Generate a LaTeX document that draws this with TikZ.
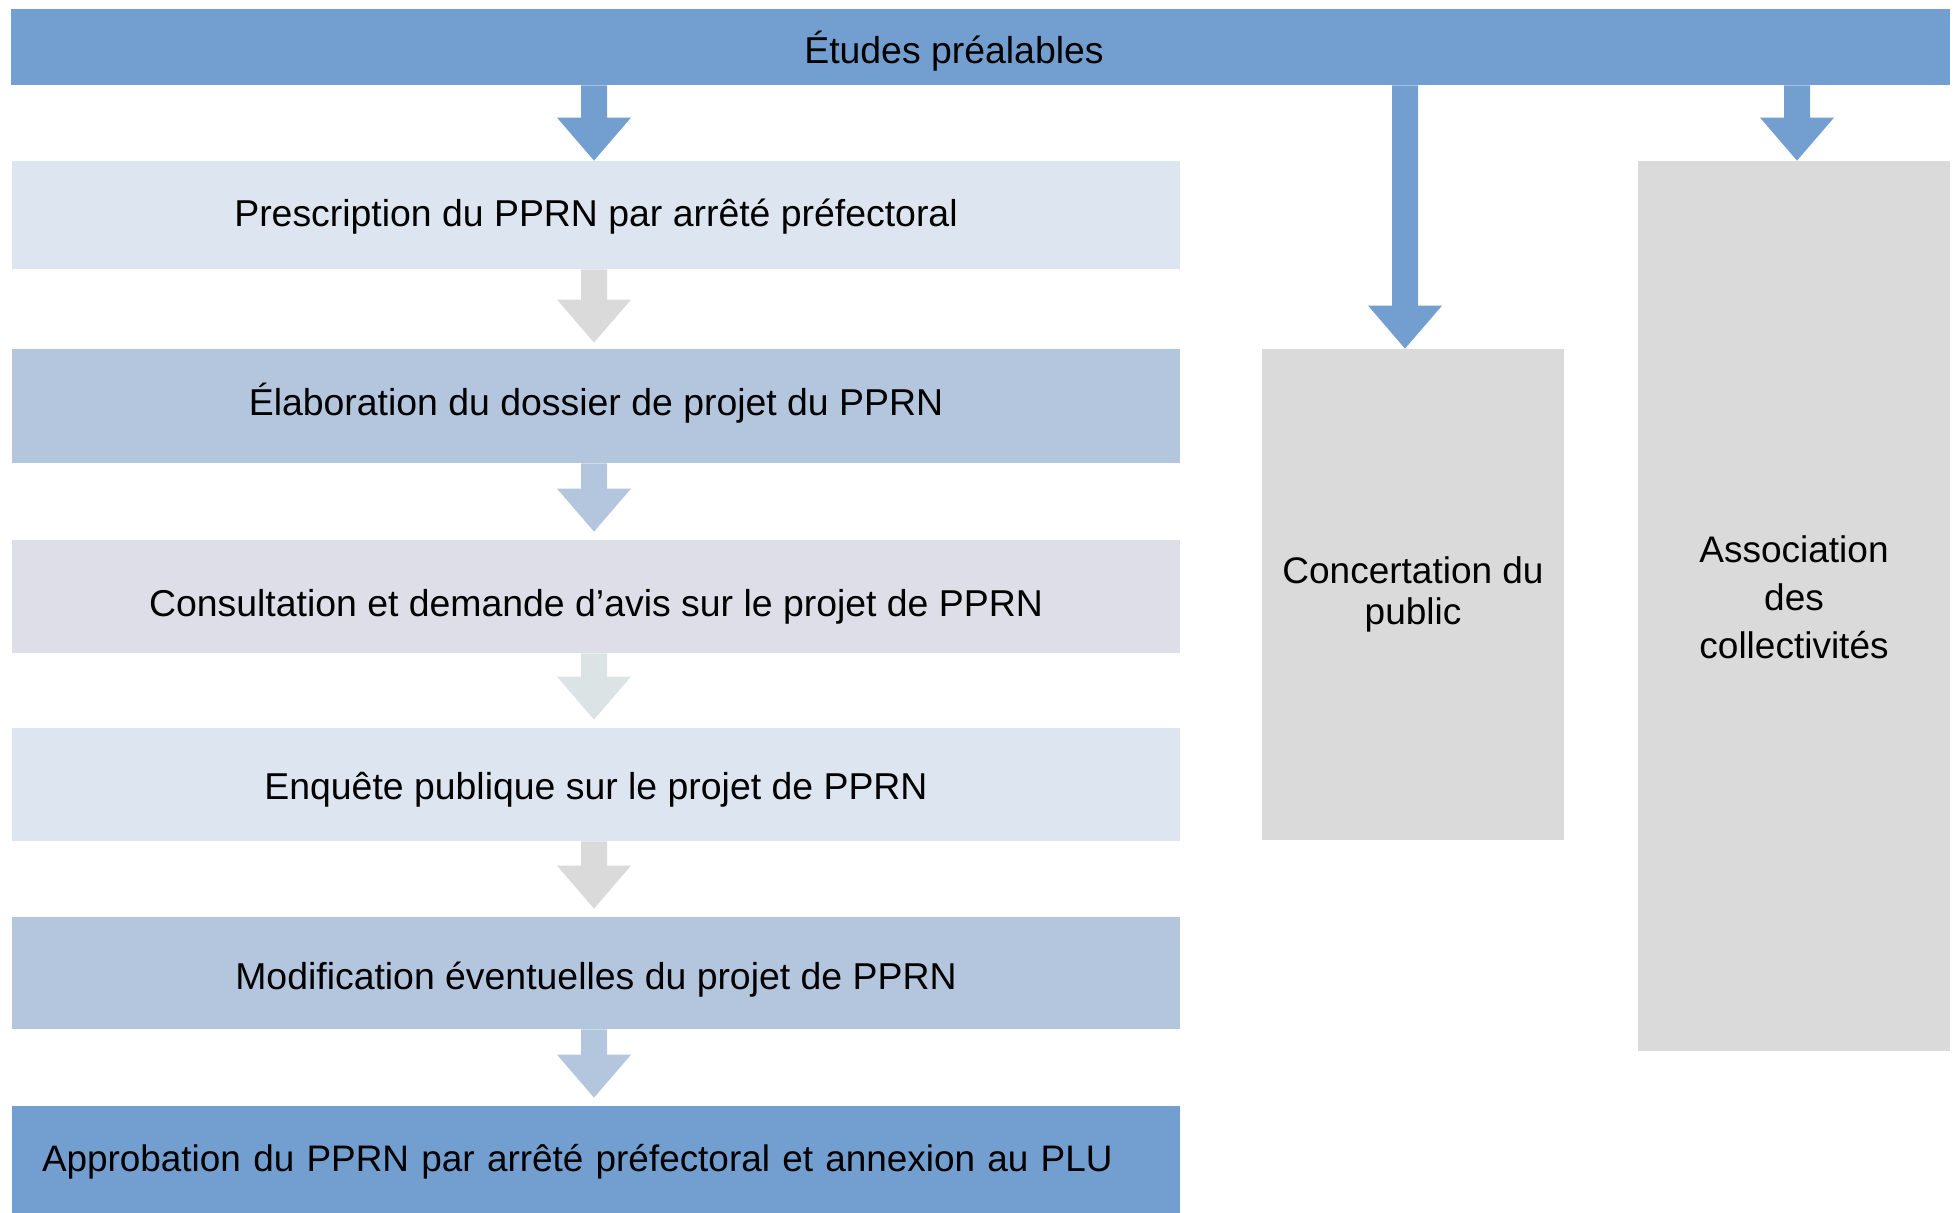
\documentclass[tikz,border=0pt]{standalone}
\usepackage{fontspec}
\setmainfont{Liberation Sans}
\usetikzlibrary{calc}
\definecolor{barblue}{RGB}{114,159,207}
\definecolor{paleblue}{RGB}{221,230,240}
\definecolor{midblue}{RGB}{179,198,222}
\definecolor{lavgray}{RGB}{222,222,232}
\definecolor{boxgray}{RGB}{218,218,218}
\definecolor{arrowpale}{RGB}{220,227,229}
\tikzset{
  stepbox/.style={rectangle, inner sep=0pt, minimum width=584pt, text=black,
    text depth=0pt, font=\fontsize{18.7pt}{22pt}\selectfont},
  sidebox/.style={rectangle, fill=boxgray, inner sep=0pt, align=center, text=black},
}
\newcommand\blockarrow[3]{%
  \fill[#1] let \p1=#2, \p2=#3 in
    (\x2-6.5pt,\y1) -- (\x2+6.5pt,\y1) -- (\x2+6.5pt,\y2+21.5pt) --
    (\x2+18.5pt,\y2+21.5pt) -- (\x2,\y2) -- (\x2-18.5pt,\y2+21.5pt) --
    (\x2-6.5pt,\y2+21.5pt) -- cycle;}
\begin{document}
\begin{tikzpicture}[x=0.5pt,y=-0.5pt]
\useasboundingbox (0,0) rectangle (1957,1212);
% top bar
\node[rectangle, fill=barblue, inner sep=0pt, minimum width=969.5pt, minimum height=38pt] (bar) at (980.5,47) {};
\node[font=\fontsize{18.7pt}{22pt}\selectfont, inner sep=0pt, text height=13.4pt, text depth=0pt] (bartext) at (954,50) {Études préalables};
% left column
\node[stepbox, fill=paleblue, minimum height=54pt, text height=11.9pt] (prescr) at (596,215) {Prescription du PPRN par arrêté préfectoral};
\node[stepbox, fill=midblue, minimum height=57pt, text height=9.4pt] (elab) at (596,406) {Élaboration du dossier de projet du PPRN};
\node[stepbox, fill=lavgray, minimum height=56.5pt, text height=19.9pt] (consult) at (596,596.5) {Consultation et demande d’avis sur le projet de PPRN};
\node[stepbox, fill=paleblue, minimum height=56.5pt, text height=14.9pt] (enq) at (596,784.5) {Enquête publique sur le projet de PPRN};
\node[stepbox, fill=midblue, minimum height=56pt, text height=16.4pt] (modif) at (596,973) {Modification éventuelles du projet de PPRN};
\node[stepbox, fill=barblue, minimum height=54pt, text height=11.4pt, text width=554pt, align=left, inner xsep=15pt, font=\fontsize{18.45pt}{22pt}\selectfont] (approb) at (596,1160) {Approbation du PPRN par arrêté préfectoral et annexion au PLU};
% right column
\node[sidebox, minimum width=151pt, minimum height=245.5pt, font=\fontsize{18.5pt}{20.5pt}\selectfont] (conc) at (1413,594.5) {Concertation du\\public};
\node[sidebox, minimum width=156pt, minimum height=445pt,
  label={[name=assoctext, align=center, text=black, inner sep=0pt, yshift=4.25pt, font=\fontsize{18.5pt}{24pt}\selectfont]center:Association\\des\\collectivités}] (assoc) at (1794,606) {};
% arrows
\blockarrow{barblue}{(bar.south -| prescr.north)}{([xshift=-1pt]prescr.north)}
\blockarrow{boxgray}{([xshift=-1pt]prescr.south)}{([xshift=-1pt,yshift=3pt]elab.north)}
\blockarrow{midblue}{([xshift=-1pt]elab.south)}{([xshift=-1pt,yshift=4pt]consult.north)}
\blockarrow{arrowpale}{([xshift=-1pt]consult.south)}{([xshift=-1pt,yshift=4pt]enq.north)}
\blockarrow{boxgray}{([xshift=-1pt]enq.south)}{([xshift=-1pt,yshift=4pt]modif.north)}
\blockarrow{midblue}{([xshift=-1pt]modif.south)}{([xshift=-1pt,yshift=4pt]approb.north)}
\blockarrow{barblue}{(bar.south -| conc.north)}{([xshift=-4pt]conc.north)}
\blockarrow{barblue}{(bar.south -| assoc.north)}{([xshift=1.5pt]assoc.north)}
\end{tikzpicture}
\end{document}
